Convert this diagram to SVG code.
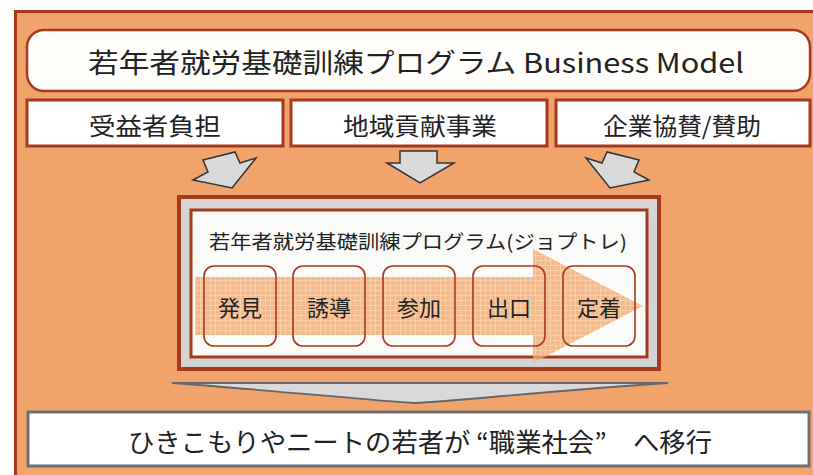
<svg xmlns="http://www.w3.org/2000/svg" width="813" height="475" viewBox="0 0 813 475">
<defs>
<style>
.t{font-family:"Noto Sans CJK JP","Noto Sans",sans-serif;fill:#222;text-anchor:middle;dominant-baseline:central}
.red{fill:#fff;stroke:#A8391C;stroke-width:3}
.step{fill:none;stroke:#A8391C;stroke-width:1.6}
.gr{fill:#D9D9D9;stroke:#333;stroke-width:1.5;stroke-linejoin:miter}
</style>
<pattern id="grid" width="5" height="5" patternUnits="userSpaceOnUse">
<rect width="5" height="5" fill="#F2A468"/>
<path d="M0,0.5H5M0.5,0V5" stroke="#F6C08C" stroke-width="1"/>
</pattern>
</defs>
<rect width="813" height="475" fill="#fff"/>
<g id="frame">
<rect x="15.5" y="11.5" width="830" height="480" fill="#F0A46C" stroke="#A8391C" stroke-width="3"/>
</g>
<g id="title">
<rect x="27" y="30" width="783" height="61" rx="17" fill="#FFFEFB" stroke="#A8391C" stroke-width="2.5"/>
<text class="t" x="416" y="61" font-size="27" textLength="656" lengthAdjust="spacingAndGlyphs">若年者就労基礎訓練プログラム Business Model</text>
</g>
<g id="box1">
<rect class="red" x="27" y="100" width="256" height="46"/>
<text class="t" x="155" y="124" font-size="24" textLength="132" lengthAdjust="spacingAndGlyphs">受益者負担</text>
</g>
<g id="box2">
<rect class="red" x="291" y="100" width="256" height="46"/>
<text class="t" x="420" y="124" font-size="24" textLength="154" lengthAdjust="spacingAndGlyphs">地域貢献事業</text>
</g>
<g id="box3">
<rect class="red" x="556" y="100" width="254" height="46"/>
<text class="t" x="682" y="124" font-size="24" textLength="158" lengthAdjust="spacingAndGlyphs">企業協賛/賛助</text>
</g>
<g id="program">
<rect x="179" y="197" width="480" height="172" fill="#D4D4D4" stroke="#A8391C" stroke-width="4"/>
<rect x="191" y="210" width="456" height="147" fill="#FAFAF8" stroke="#A8391C" stroke-width="3"/>
<text class="t" x="418" y="240" font-size="19" textLength="418" lengthAdjust="spacingAndGlyphs">若年者就労基礎訓練プログラム(ジョプトレ)</text>
<path d="M195,277 H533 V249 L643,306 L533,363 V335 H195 Z" fill="url(#grid)" opacity="0.75"/>
</g>
<g id="step1"><rect class="step" x="204" y="266" width="72" height="80" rx="10"/><text class="t" x="240" y="306" font-size="22">発見</text></g>
<g id="step2"><rect class="step" x="293" y="266" width="72" height="80" rx="10"/><text class="t" x="329" y="306" font-size="22">誘導</text></g>
<g id="step3"><rect class="step" x="383" y="266" width="72" height="80" rx="10"/><text class="t" x="419" y="306" font-size="22">参加</text></g>
<g id="step4"><rect class="step" x="473" y="266" width="72" height="80" rx="10"/><text class="t" x="509" y="306" font-size="22">出口</text></g>
<g id="step5"><rect class="step" x="563" y="266" width="72" height="80" rx="10"/><text class="t" x="599" y="306" font-size="22">定着</text></g>
<g id="result">
<rect x="28" y="412" width="781" height="54" fill="#fff" stroke="#6E6E6E" stroke-width="3"/>
<text class="t" x="420" y="440" font-size="26" textLength="584" lengthAdjust="spacingAndGlyphs">ひきこもりやニートの若者が “職業社会”　へ移行</text>
</g>
<g id="connectors">
<path class="gr" d="M203,160 L235,152 L240,163 L256,158 L232,188 L193,180 L208,172 Z"/>
<path class="gr" d="M400,151 H437 V163 H454 L420,183 L387,163 H400 Z"/>
<path class="gr" d="M639,160 L607,152 L602,163 L586,158 L610,188 L649,180 L634,172 Z"/>
<path d="M172,383 L668,383 C560,390 455,401 415,403 C375,401 270,390 172,383 Z" fill="#D9D9D9" stroke="#666" stroke-width="1.8"/>
</g>
</svg>
